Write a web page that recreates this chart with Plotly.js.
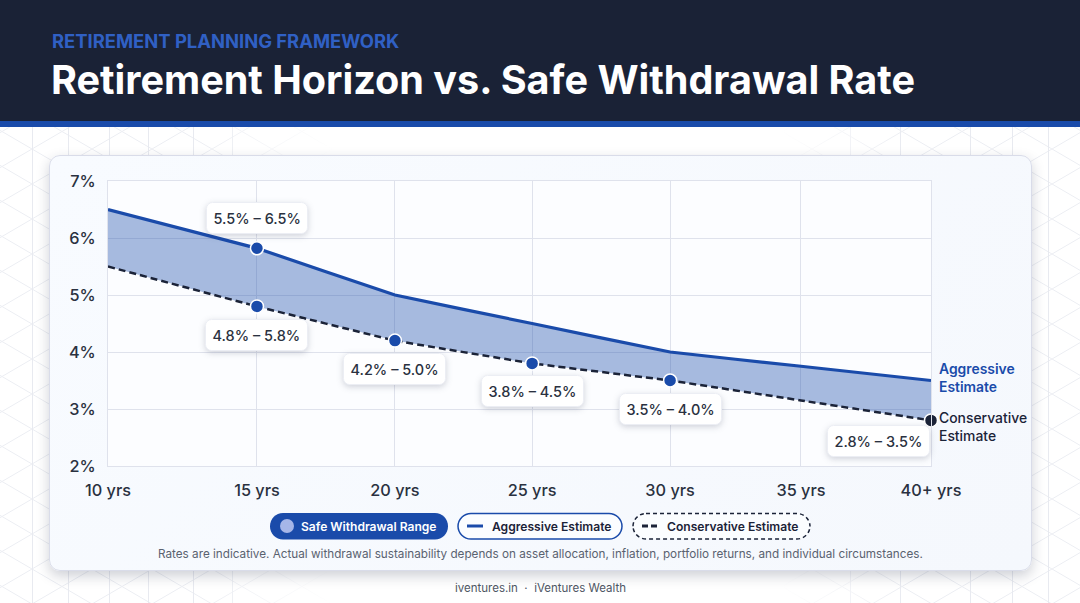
<!DOCTYPE html>
<html>
<head>
<meta charset="utf-8">
<script src="https://cdn.plot.ly/plotly-3.0.1.min.js"></script>
<style>
html,body{margin:0;padding:0;width:1080px;height:603px;overflow:hidden;background:#fff;}
#bg{position:absolute;left:0;top:127px;width:1080px;height:476px;
background-image:url("data:image/svg+xml,%3Csvg xmlns='http://www.w3.org/2000/svg' width='1080' height='476'%3E%3Cg stroke='%23e8eaf0' stroke-width='1' fill='none'%3E%3Cpath d='M32.5 0V476M68.5 0V476M109.5 0V476M148.5 0V476M193.5 0V476M232.5 0V476M1048.5 0V476M1012.5 0V476M970.5 0V476M900.5 0V476M850.5 0V476'/%3E%3C/g%3E%3C/svg%3E"),
url("data:image/svg+xml,%3Csvg xmlns='http://www.w3.org/2000/svg' width='60' height='35'%3E%3Cg stroke='%23eceef3' stroke-width='1' fill='none'%3E%3Cpath d='M0 0L60 35M0 35L60 0'/%3E%3C/g%3E%3C/svg%3E");
background-position:0 0,32px 22px;background-repeat:no-repeat,repeat;
-webkit-mask-image:linear-gradient(to right,#000 0,#000 18%,transparent 31%,transparent 72%,#000 84%);
mask-image:linear-gradient(to right,#000 0,#000 18%,transparent 31%,transparent 72%,#000 84%);}
#card{position:absolute;left:49px;top:155px;width:981px;height:414px;border-radius:11px;border:1px solid #d9dce9;
background:linear-gradient(135deg,#f8fbff,#f5f8fd);box-shadow:0 5px 13px rgba(30,40,70,.22);}
#chart{position:absolute;left:0;top:0;width:1080px;height:603px;}
.annotation rect.bg{rx:6px;ry:6px;}
</style>
</head>
<body>
<div id="bg"></div>
<div id="card"></div>
<div id="chart"></div>
<script>
// Data
const horizonLabels = ["10 yrs","15 yrs","20 yrs","25 yrs","30 yrs","35 yrs","40+ yrs"];
const horizonX = [10,15.43,20.46,25.46,30.49,35.26,40];
const aggressive = [6.5,5.82,5.0,4.5,4.0,3.75,3.5];
const conservative = [5.5,4.8,4.2,3.8,3.5,3.15,2.8];
const yTicks = [2,3,4,5,6,7];
const rangeLow = [4.8,4.2,3.8,3.5,2.8];
const rangeHigh = [5.8,5.0,4.5,4.0,3.5];
const rangeSlot = [1,2,3,4,6];
const title = "Retirement Horizon vs. Safe Withdrawal Rate";
const eyebrow = "RETIREMENT PLANNING FRAMEWORK";
const footnote = "Rates are indicative. Actual withdrawal sustainability depends on asset allocation, inflation, portfolio returns, and individual circumstances.";
const footer = "iventures.in  ·  iVentures Wealth";
const legendNames = ["Safe Withdrawal Range","Aggressive Estimate","Conservative Estimate"];

const BLUE="#1a4baa", DARK="#1b2338", TEXT="#2a3140", FONT="Inter, sans-serif";
const L=108,R=931,T=181,B=466;
const px=x=>(x-L)/(R-L), py=y=>(B-y)/(B-T);
function round(x0,y0,x1,y1,r){
  const X=px, Y=py;
  const kx=0.45*r;
  return `M ${X(x0+r)} ${Y(y0)} L ${X(x1-r)} ${Y(y0)} C ${X(x1-kx)} ${Y(y0)} ${X(x1)} ${Y(y0+kx)} ${X(x1)} ${Y(y0+r)} L ${X(x1)} ${Y(y1-r)} C ${X(x1)} ${Y(y1-kx)} ${X(x1-kx)} ${Y(y1)} ${X(x1-r)} ${Y(y1)} L ${X(x0+r)} ${Y(y1)} C ${X(x0+kx)} ${Y(y1)} ${X(x0)} ${Y(y1-kx)} ${X(x0)} ${Y(y1-r)} L ${X(x0)} ${Y(y0+r)} C ${X(x0)} ${Y(y0+kx)} ${X(x0+kx)} ${Y(y0)} ${X(x0+r)} ${Y(y0)} Z`;
}
const rectP=(x0,y0,x1,y1,fill)=>({type:"rect",xref:"paper",yref:"paper",x0:px(x0),x1:px(x1),y0:py(y1),y1:py(y0),fillcolor:fill,line:{width:0},layer:"below"});
const shapes=[
  rectP(0,0,1080,121,"#1a2236"),
  rectP(0,121,1080,127,BLUE),
  {type:"path",xref:"paper",yref:"paper",path:round(270,513,448,539.5,13),fillcolor:BLUE,line:{width:0},layer:"above"},
  {type:"path",xref:"paper",yref:"paper",path:round(458,513.5,622,539,13),fillcolor:"#fbfdff",line:{color:BLUE,width:1.5},layer:"above"},
  {type:"path",xref:"paper",yref:"paper",path:round(633,513.5,810,539,13),fillcolor:"#fbfdff",line:{color:DARK,width:1.5,dash:"4px,3px"},layer:"above"},
  {type:"circle",xref:"paper",yref:"paper",x0:px(280),x1:px(294),y0:py(533),y1:py(519),fillcolor:"#a6b6e8",line:{width:0},layer:"above"},
  {type:"line",xref:"paper",yref:"paper",x0:px(467),x1:px(483),y0:py(526),y1:py(526),line:{color:BLUE,width:3},layer:"above"},
  {type:"line",xref:"paper",yref:"paper",x0:px(642),x1:px(660),y0:py(526),y1:py(526),line:{color:DARK,width:3,dash:"6px,3px"},layer:"above"}
];
const ann=(x,y,text,size,color,weight,anchor)=>({xref:"paper",yref:"paper",x:px(x),y:py(y),text,showarrow:false,
  xanchor:anchor||"left",yanchor:"middle",align:anchor==="center"?"center":"left",font:{family:FONT,size,color,weight:weight||400},borderpad:0});
const annotations=[
  ann(50.5,41,eyebrow,18.4,"#3060c4",700),
  ann(50,80,title,39.6,"#ffffff",700),
  ann(299.5,526,legendNames[0],12.05,"#ffffff",600),
  ann(490.5,526,legendNames[1],12.1,DARK,600),
  ann(665.5,526,legendNames[2],12.1,DARK,600),
  ann(540,554,footnote,11.72,"#5a6270",400,"center"),
  ann(540,588,footer,11.5,"#4e5563",400,"center"),
  ann(938,377.5,"Aggressive<br>Estimate",13.9,BLUE,600),
  ann(938,426.5,"Conservative<br>Estimate",13.9,DARK,500)
];
const pill=(x,y,lo,hi,xs,ys)=>({x,y,xref:"x",yref:"y",text:`${lo.toFixed(1)}% – ${hi.toFixed(1)}%`,showarrow:false,
  xanchor:"center",yanchor:"middle",xshift:xs,yshift:ys,bgcolor:"#ffffff",bordercolor:"#eceef4",borderwidth:1,borderpad:6.5,
  font:{family:FONT,size:14.5,color:TEXT,weight:500}});
annotations.push(pill(horizonX[1],aggressive[1],5.5,6.5,0,30));
const offs=[[0,-29],[0,-28],[0,-28],[0,-28],[-53,-21]];
rangeSlot.forEach((s,i)=>annotations.push(pill(horizonX[s],conservative[s],rangeLow[i],rangeHigh[i],offs[i][0],offs[i][1])));

const traces=[
  {x:horizonX,y:conservative,mode:"lines",line:{color:"rgba(0,0,0,0)",width:0},hoverinfo:"skip",showlegend:false},
  {x:horizonX,y:aggressive,mode:"lines",fill:"tonexty",fillcolor:"rgba(26,75,170,0.38)",line:{color:BLUE,width:3.2,shape:"spline",smoothing:0.12},name:legendNames[1],hoverinfo:"skip",showlegend:false,cliponaxis:false},
  {x:horizonX,y:conservative,mode:"lines",line:{color:DARK,width:2.5,dash:"7px,4px",shape:"spline",smoothing:0.12},name:legendNames[2],hoverinfo:"skip",showlegend:false,cliponaxis:false},
  {x:horizonX,y:aggressive,mode:"markers",marker:{size:[0,13,0,0,0,0,0],opacity:1,color:BLUE,line:{color:"#fff",width:1.5}},hoverinfo:"skip",showlegend:false,cliponaxis:false},
  {x:horizonX,y:conservative,mode:"markers",marker:{size:[0,13,13,13,13,0,13],opacity:1,color:[BLUE,BLUE,BLUE,BLUE,BLUE,BLUE,DARK],line:{color:"#fff",width:1.5}},hoverinfo:"skip",showlegend:false,cliponaxis:false}
];
const tickFont={family:FONT,size:16.3,color:TEXT,weight:500};
const layout={
  width:1080,height:603,margin:{l:L,r:1080-R,t:T,b:603-B,pad:0},
  paper_bgcolor:"rgba(0,0,0,0)",plot_bgcolor:"#fcfdff",showlegend:false,
  font:{family:FONT,color:TEXT},
  xaxis:{type:"linear",range:[10,40],tickmode:"array",tickvals:horizonX,ticktext:horizonLabels,showgrid:true,gridcolor:"#dfe2ec",gridwidth:1,
    zeroline:false,showline:true,linecolor:"#dfe2ec",mirror:true,ticks:"",ticklabelstandoff:9,tickfont:tickFont},
  yaxis:{range:[2,7],tickmode:"array",tickvals:yTicks,ticktext:yTicks.map(v=>v+"%"),showgrid:true,gridcolor:"#dfe2ec",gridwidth:1,
    zeroline:false,showline:true,linecolor:"#dfe2ec",mirror:true,ticks:"",ticklabelstandoff:8,tickfont:tickFont},
  shapes,annotations
};
Plotly.newPlot("chart",traces,layout,{displayModeBar:false,staticPlot:true}).then(()=>{
  document.querySelectorAll(".annotation rect.bg").forEach(r=>{
    if(r.style.fill && r.style.fill.indexOf("255, 255, 255")>=0 && !/rgba\(255, 255, 255, 0\)/.test(r.style.fill)){
      r.style.filter="drop-shadow(0 2px 3px rgba(30,40,70,.2))";
    }
  });
});
</script>
</body>
</html>
